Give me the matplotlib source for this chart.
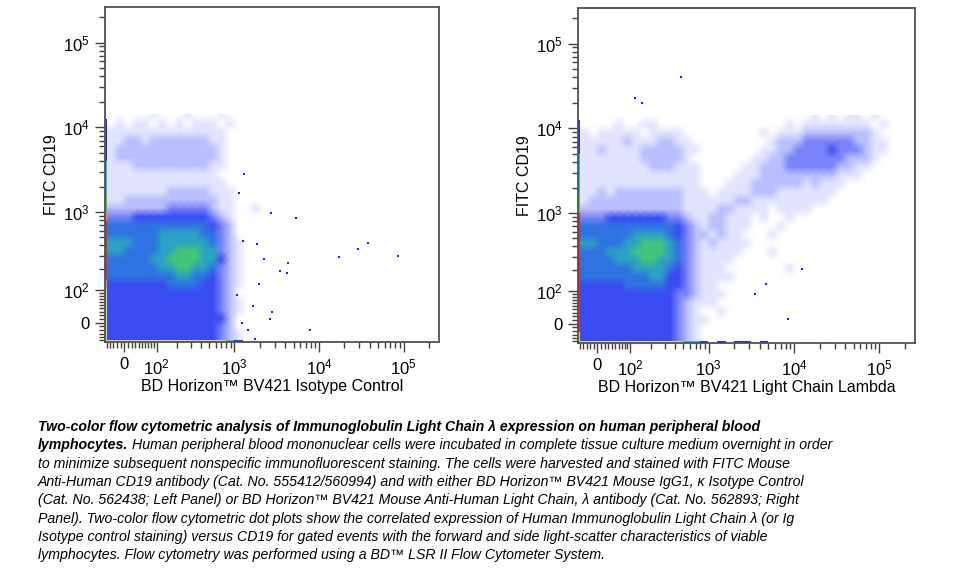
import numpy as np
import matplotlib
matplotlib.use('Agg')
import matplotlib.pyplot as plt
from matplotlib.colors import LinearSegmentedColormap, ListedColormap

plt.rcParams['font.family'] = ['Liberation Sans', 'DejaVu Sans']
plt.rcParams['mathtext.fontset'] = 'custom'
plt.rcParams['mathtext.rm'] = 'Liberation Sans'
plt.rcParams['mathtext.it'] = 'Liberation Sans:italic'

# ---- data -------------------------------------------------------------
# event density, level 0 (empty) .. 8 (densest)
# one character per cell of 0.1 display decades, columns start at -0.2,
# rows listed top (2.4-2.5) to bottom (-0.2 - -0.1)
density_isotype = [
    "0000010001000100000000000000000000000",
    "0101101010111010000000000000000000000",
    "1111111111111100000000000000000000000",
    "1122122222221100000000000000000000000",
    "1222222222222100000000000000000000000",
    "1222222222222100000000000000000000000",
    "1112222222221100000000000000000000000",
    "1111111111111000000000000000000000000",
    "1111111111111100000000000000000000000",
    "1111111222221110000000000000000000000",
    "1122222222222110000000000000000000000",
    "2222222333332110010000000000000000000",
    "3334444444443210000000000000000000000",
    "5555555555554320000000000000000000000",
    "5555556666655320000000000000000000000",
    "6665556666665321000000000000000000000",
    "6655556677766321000000000000000000000",
    "5555566777766421000000000000000000000",
    "5555556677665321000000000000000000000",
    "5555555566554321000000000000000000000",
    "4444444555544321000000000000000000000",
    "4444444444444320000000000000000000000",
    "4444444444444321000000000000000000000",
    "4444444444444321000000000000000000000",
    "4444444444444420000000000000000000000",
    "4444444444444320000000000000000000000",
    "4444444444444321000000000000000000000",
]
density_lambda = [
    "0000000000000000000000000001010110100",
    "0000100110000000000000001011111111010",
    "1011111011110000000001011122222222100",
    "1111121112211000000000122233333322110",
    "1121111222221100000001122333343332110",
    "1111111222221000000011223333333222100",
    "1111111122211100000112223333332211000",
    "1111111111111100001112222222221110000",
    "1111111111111100011122222212111000000",
    "1121222222221110111122211111110000000",
    "1222222222221111112211111111100000000",
    "2222222222221111221111011110000000000",
    "3334444444332112211101001000000000000",
    "5555555555543212211100010000000000000",
    "5555556666543221211000100000000000000",
    "6655566777653212111100000000000000000",
    "5556667777653211111000100000000000000",
    "5555666776653211110000000000000000000",
    "5555556666543211100000001000000000000",
    "5555555566443211110000000000000000000",
    "4444455555443211000000000000000000000",
    "4444444444433211100000000000000000000",
    "4444444444432111000000000000000000000",
    "4444444444432100100000000000000000000",
    "4444444444432110000000000000000000000",
    "4444444444432100000000000000000000000",
    "4444444444432100000000000000000000000",
]

# off-scale events piled on the axes (1 blue .. 4 yellow .. 6 red)
# left edge bottom->top, bottom edge left->right
edge_left_isotype = "444444566666665332222111110"
edge_bottom_isotype = "4444444444444431000000000000000000000"
edge_left_lambda = "466666666666666332222211110"
edge_bottom_lambda = "4444444444443210101101000000000000000"

# isolated events
out_x_isotype = [1290, 1125, 2680, 5280, 1830, 1260, 38100, 29000, 17400, 85900,
                 2220, 4250, 3420, 4140, 1930, 1065, 1650, 2750, 2610, 1220,
                 7930, 1440, 1740]
out_y_isotype = [2840, 1700, 990, 843, 414, 450, 426, 360, 287, 295,
                 272, 242, 190, 179, 125, 83, 47, 30, 11, 0,
                 -19, -19, -47]
out_x_lambda = [468, 118, 150, 8600, 12560, 3510, 4730]
out_y_lambda = [40300, 22900, 20000, 12, 212, 88, 128]

major_ticks = [0, 1e2, 1e3, 1e4, 1e5]
major_labels = ['0', '$10^2$', '$10^3$', '$10^4$', '$10^5$']
minor_ticks = ([-50, -40, -30, -20, -10] + list(range(10, 100, 10))
               + [m * 10 ** e for e in (2, 3, 4) for m in range(2, 10)] + [2e5])

x_titles = ['BD Horizon™ BV421 Isotype Control', 'BD Horizon™ BV421 Light Chain Lambda']

caption_bold_1 = ('Two-color flow cytometric analysis of Immunoglobulin Light Chain λ '
                  'expression on human peripheral blood')
caption_bold_2 = 'lymphocytes.'
caption_rest_2 = ('Human peripheral blood mononuclear cells were incubated in complete '
                  'tissue culture medium overnight in order')
caption_lines = [
    'to minimize subsequent nonspecific immunofluorescent staining. The cells were '
    'harvested and stained with FITC Mouse',
    'Anti-Human CD19 antibody (Cat. No. 555412/560994) and with either BD Horizon™ '
    'BV421 Mouse IgG1, κ Isotype Control',
    '(Cat. No. 562438; Left Panel) or BD Horizon™ BV421 Mouse Anti-Human Light Chain, '
    'λ antibody (Cat. No. 562893; Right',
    'Panel). Two-color flow cytometric dot plots show the correlated expression of '
    'Human Immunoglobulin Light Chain λ (or Ig',
    'Isotype control staining) versus CD19 for gated events with the forward and side '
    'light-scatter characteristics of viable',
    'lymphocytes. Flow cytometry was performed using a BD™ LSR II Flow Cytometer System.',
]

# ---- scale ------------------------------------------------------------
LN10 = np.log(10)
def fwd(v):
    return np.arcsinh(np.asarray(v, float) / 100.0) / LN10

def inv(u):
    return 100.0 * np.sinh(np.asarray(u, float) * LN10)

LIM = (-55, 262144)
U0 = float(fwd(LIM[0]))

dens_cmap = LinearSegmentedColormap.from_list('dens', [
    (0.0, '#ffffff'), (1 / 8, '#e2e4ff'), (2 / 8, '#b9beff'), (3 / 8, '#7a84fb'),
    (4 / 8, '#3a4af2'), (5 / 8, '#2e72e2'), (6 / 8, '#2aa2c4'), (7 / 8, '#40c47a'),
    (1.0, '#9edf3c')])
edge_cmap = ListedColormap(['#2030ff', '#20c0e0', '#40d040', '#e8e020', '#ff9020', '#ff2020'])


def draw_panel(ax, grid, edge_left, edge_bottom, ox, oy, xtitle):
    ax.set_xscale('function', functions=(fwd, inv))
    ax.set_yscale('function', functions=(fwd, inv))

    C = np.array([[int(c) for c in r] for r in grid[::-1]], float)
    nr, nc = C.shape
    C = np.hstack([C[:, :1], C])
    C = np.vstack([C[:1], C])
    xu = np.concatenate([[U0], -0.15 + 0.1 * np.arange(nc)])
    yu = np.concatenate([[U0], -0.15 + 0.1 * np.arange(nr)])
    X, Y = np.meshgrid(inv(xu), inv(yu))
    ax.pcolormesh(X, Y, C, shading='gouraud', cmap=dens_cmap, vmin=0, vmax=8)

    # piled-up events on the axes
    eu = np.concatenate([[U0], -0.2 + 0.1 * np.arange(1, nr + 1)])
    el = np.ma.masked_equal(np.array([[int(c)] for c in edge_left], float), 0)
    ax.pcolormesh(inv([U0, U0 + 0.026]), inv(eu), el, cmap=edge_cmap,
                  vmin=0.5, vmax=6.5, shading='flat')
    eb_u = np.concatenate([[U0], -0.2 + 0.1 * np.arange(1, nc + 1)])
    eb = np.ma.masked_equal(np.array([[int(c) for c in edge_bottom]], float), 0)
    ax.pcolormesh(inv(eb_u), inv([U0, U0 + 0.026]), eb, cmap=edge_cmap,
                  vmin=0.5, vmax=6.5, shading='flat')

    ax.scatter(ox, oy, s=3, marker='s', c='#1a1aff', linewidths=0)

    ax.set_xlim(*LIM)
    ax.set_ylim(*LIM)
    for axis in (ax.xaxis, ax.yaxis):
        axis.set_ticks(major_ticks)
        axis.set_ticklabels(major_labels)
        axis.set_ticks(minor_ticks, minor=True)
    ax.tick_params(which='major', direction='out', length=7, width=1,
                   color='#404040', labelsize=12, pad=4)
    ax.tick_params(which='minor', direction='out', length=4, width=1, color='#404040')
    for s in ax.spines.values():
        s.set_color('#505050')
        s.set_linewidth(1.3)
    ax.set_xlabel(xtitle, fontsize=11.5, labelpad=1)
    ax.set_ylabel('FITC CD19', fontsize=11.5, labelpad=3)


fig = plt.figure(figsize=(9.63, 5.79), dpi=100)
W, H = 963, 579
ax1 = fig.add_axes([105 / W, 1 - 342 / H, 334 / W, 335 / H])
ax2 = fig.add_axes([578 / W, 1 - 343 / H, 337 / W, 335 / H])
draw_panel(ax1, density_isotype, edge_left_isotype, edge_bottom_isotype,
           out_x_isotype, out_y_isotype, x_titles[0])
draw_panel(ax2, density_lambda, edge_left_lambda, edge_bottom_lambda,
           out_x_lambda, out_y_lambda, x_titles[1])

# caption
cap_font = ['Liberation Sans', 'DejaVu Sans']
cap_size = 10.2
x0 = 38 / W
line_y = [427 + 18.3 * i for i in range(8)]
fig.text(x0, 1 - line_y[0] / H, caption_bold_1, family=cap_font, size=cap_size,
         weight='bold', style='italic', va='center')
t = fig.text(x0, 1 - line_y[1] / H, caption_bold_2, family=cap_font, size=cap_size,
             weight='bold', style='italic', va='center')
bb = t.get_window_extent(fig.canvas.get_renderer())
fig.text((bb.x1 + 4) / W, 1 - line_y[1] / H, caption_rest_2, family=cap_font,
         size=cap_size, style='italic', va='center')
for i, line in enumerate(caption_lines):
    fig.text(x0, 1 - line_y[i + 2] / H, line, family=cap_font, size=cap_size,
             style='italic', va='center')

fig.savefig('out.png', dpi=100)
